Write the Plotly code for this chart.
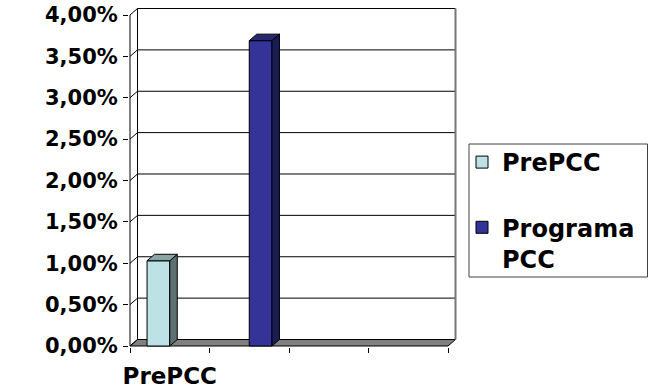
import plotly.graph_objects as go

# ---- data ---------------------------------------------------------------
CATEGORY_LABELS = ["PrePCC", "", "", ""]
SERIES_NAMES = ["PrePCC", "Programa<br>PCC"]
PREPCC_VALUES = [0.0103, None, None, None]
PROGRAMA_VALUES = [None, 0.0369, None, None]
Y_TICKS = [0.0, 0.005, 0.01, 0.015, 0.02, 0.025, 0.03, 0.035, 0.04]

# ---- styling --------------------------------------------------------------
FRONT_COLORS = ["#BDE2E5", "#333399"]
TOP_COLORS = ["#8BA4A6", "#28286F"]
SIDE_COLORS = ["#5D7072", "#1C1C55"]
FONT = dict(family="DejaVu Sans, Verdana, sans-serif", color="#000000", weight="bold")

WIDTH, HEIGHT = 649, 389
PX_PER_CAT = 79.5          # horizontal pixels per category
PX_PER_UNIT = 8275.0       # vertical pixels per 1.0 (=100 %)
DEPTH_PX = (7.5, 6.5)      # oblique depth of the 3-D box (right, up)
GAP_WIDTH = 1.5            # gap between clusters relative to one bar

# plot area in pixels
PLOT_L, PLOT_R, PLOT_T, PLOT_B = 129, 458, 6, 347
X0_PX, Y0_PX = 130, 346    # pixel position of category edge -0.5 and of 0 %

x_range = [-0.5 - (X0_PX - PLOT_L) / PX_PER_CAT, -0.5 + (PLOT_R - X0_PX) / PX_PER_CAT]
y_range = [-(PLOT_B - Y0_PX) / PX_PER_UNIT, (Y0_PX - PLOT_T) / PX_PER_UNIT]
dx = DEPTH_PX[0] / PX_PER_CAT
dy = DEPTH_PX[1] / PX_PER_UNIT

n_cat = len(CATEGORY_LABELS)
x_pos = list(range(n_cat))
cat_edges = [c - 0.5 for c in x_pos] + [n_cat - 0.5]
series = [PREPCC_VALUES, PROGRAMA_VALUES]
n_series = len(series)
bar_w = 1.0 / (n_series + GAP_WIDTH)
offsets = [-n_series * bar_w / 2 + i * bar_w for i in range(n_series)]

x_left, x_right = cat_edges[0], cat_edges[-1]
y_top = max(Y_TICKS)

fig = go.Figure()

# front faces
for s, values in enumerate(series):
    fig.add_trace(go.Bar(
        x=x_pos, y=values, name=SERIES_NAMES[s], legendgroup=f"g{s}",
        width=bar_w, offset=offsets[s],
        marker=dict(color=FRONT_COLORS[s], line=dict(color="#000000", width=1)),
        hovertemplate="%{y:.2%}<extra></extra>"))

# 3-D side and top faces of every column (on the overlay axis that carries
# the category tick marks)
for s, values in enumerate(series):
    for c, v in zip(x_pos, values):
        if v is None:
            continue
        xl = c + offsets[s]
        xr = xl + bar_w
        fig.add_trace(go.Scatter(
            x=[xr, xr + dx, xr + dx, xr, xr], y=[0, dy, v + dy, v, 0],
            xaxis="x2", mode="lines", fill="toself", fillcolor=SIDE_COLORS[s],
            line=dict(color="#000000", width=1), showlegend=False, hoverinfo="skip"))
        fig.add_trace(go.Scatter(
            x=[xl, xl + dx, xr + dx, xr, xl], y=[v, v + dy, v + dy, v, v],
            xaxis="x2", mode="lines", fill="toself", fillcolor=TOP_COLORS[s],
            line=dict(color="#000000", width=1), showlegend=False, hoverinfo="skip"))

shapes = []
# floor
shapes.append(dict(
    type="path", xref="x", yref="y", layer="below",
    path=(f"M {x_left},0 L {x_right},0 L {x_right + dx},{dy} "
          f"L {x_left + dx},{dy} Z"),
    fillcolor="#808080", line=dict(color="#000000", width=1)))
# gridlines on the back wall plus their diagonals on the side wall
for t in Y_TICKS:
    shapes.append(dict(type="line", xref="x", yref="y", layer="below",
                       x0=x_left, y0=t, x1=x_left + dx, y1=t + dy,
                       line=dict(color="#000000", width=1)))
    shapes.append(dict(type="line", xref="x", yref="y", layer="below",
                       x0=x_left + dx, y0=t + dy, x1=x_right + dx, y1=t + dy,
                       line=dict(color="#000000", width=1)))
# wall edges
shapes.append(dict(type="line", xref="x", yref="y", layer="below",
                   x0=x_left, y0=0, x1=x_left, y1=y_top,
                   line=dict(color="#000000", width=1)))
shapes.append(dict(type="line", xref="x", yref="y", layer="below",
                   x0=x_left + dx, y0=dy, x1=x_left + dx, y1=y_top + dy,
                   line=dict(color="#000000", width=1)))
shapes.append(dict(type="line", xref="x", yref="y", layer="below",
                   x0=x_right + dx, y0=dy, x1=x_right + dx, y1=y_top + dy,
                   line=dict(color="#777777", width=2)))


def paper_x(px):
    return (px - PLOT_L) / (PLOT_R - PLOT_L)


def paper_y(py):
    return (PLOT_B - py) / (PLOT_B - PLOT_T)


# legend frame
shapes.append(dict(type="rect", xref="paper", yref="paper",
                   x0=paper_x(469), x1=paper_x(647.5), y0=paper_y(277), y1=paper_y(144),
                   line=dict(color="#404040", width=1), fillcolor="rgba(0,0,0,0)"))

fig.update_layout(
    width=WIDTH, height=HEIGHT,
    margin=dict(l=PLOT_L, r=WIDTH - PLOT_R, t=PLOT_T, b=HEIGHT - PLOT_B, pad=0),
    paper_bgcolor="#FFFFFF", plot_bgcolor="#FFFFFF",
    separators=", ",
    barmode="overlay",
    font=FONT,
    shapes=shapes,
    xaxis=dict(
        range=x_range, showgrid=False, zeroline=False, showline=False,
        tickmode="array", tickvals=x_pos, ticktext=CATEGORY_LABELS, ticks="",
        tickfont=dict(size=23, **FONT), ticklabelstandoff=13,
        automargin=False, fixedrange=True),
    xaxis2=dict(
        overlaying="x", anchor="y", side="bottom", range=x_range,
        showgrid=False, zeroline=False, showline=False,
        tickmode="array", tickvals=cat_edges, showticklabels=False,
        ticks="outside", ticklen=5, tickcolor="#000000",
        automargin=False, fixedrange=True),
    yaxis=dict(
        range=y_range, showgrid=False, zeroline=False, showline=False,
        tickmode="array", tickvals=Y_TICKS, tickformat=".2%",
        ticks="outside", ticklen=5, tickcolor="#000000",
        tickfont=dict(size=21, **FONT), ticklabelstandoff=1,
        automargin=False, fixedrange=True),
    legend=dict(
        x=paper_x(462), y=paper_y(140), xanchor="left", yanchor="top",
        bgcolor="rgba(0,0,0,0)", borderwidth=0,
        font=dict(size=24, **FONT), traceorder="grouped", tracegroupgap=31,
        valign="top"),
)

fig.write_html("out.html")
